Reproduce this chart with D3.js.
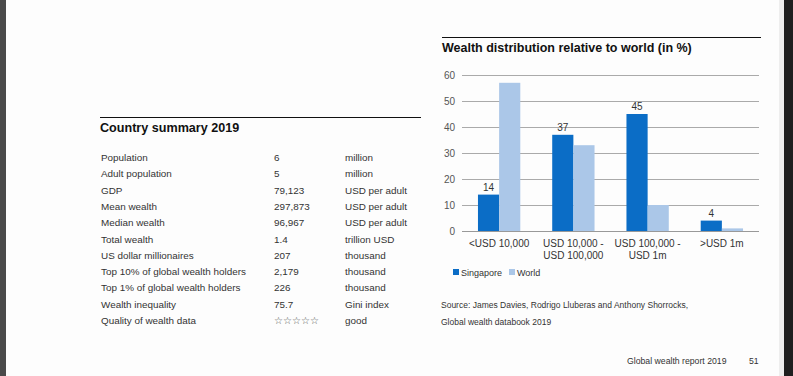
<!DOCTYPE html>
<html>
<head>
<meta charset="utf-8">
<script src="https://cdn.jsdelivr.net/npm/d3@7"></script>
<style>
  html, body { margin: 0; padding: 0; background: #fdfdfd; }
  svg { display: block; }
  text { font-family: "Liberation Sans", Arial, Helvetica, sans-serif; }
</style>
</head>
<body>
<script>
// ---- Data ----
const categories = [["<USD 10,000"], ["USD 10,000 -", "USD 100,000"], ["USD 100,000 -", "USD 1m"], [">USD 1m"]];
const singapore = [14, 37, 45, 4];
const world = [57, 33, 10, 1];
const yTicks = [0, 10, 20, 30, 40, 50, 60];
const seriesNames = ["Singapore", "World"];

const rowLabels = ["Population", "Adult population", "GDP", "Mean wealth", "Median wealth", "Total wealth",
  "US dollar millionaires", "Top 10% of global wealth holders", "Top 1% of global wealth holders",
  "Wealth inequality", "Quality of wealth data"];
const rowValues = ["6", "5", "79,123", "297,873", "96,967", "1.4", "207", "2,179", "226", "75.7", "☆☆☆☆☆"];
const rowUnits = ["million", "million", "USD per adult", "USD per adult", "USD per adult", "trillion USD",
  "thousand", "thousand", "thousand", "Gini index", "good"];

// ---- Layout ----
const W = 793, H = 376;
const svg = d3.select("body").append("svg").attr("width", W).attr("height", H);

svg.append("rect").attr("x", 0).attr("y", 0).attr("width", W).attr("height", H).attr("fill", "#fdfdfd");
svg.append("rect").attr("x", 779).attr("y", 0).attr("width", 6).attr("height", H).attr("fill", "#eeeeee");
svg.append("rect").attr("x", 0).attr("y", 0).attr("width", 6).attr("height", H).attr("fill", "#4a4a4a");
svg.append("rect").attr("x", 784).attr("y", 0).attr("width", 9).attr("height", H).attr("fill", "#1f1f1f");

const textCol = "#333";

// ---- Left: Country summary ----
svg.append("line").attr("x1", 100).attr("x2", 421).attr("y1", 117.5).attr("y2", 117.5)
  .attr("stroke", "#111").attr("stroke-width", 1);
svg.append("text").attr("x", 100).attr("y", 132).attr("font-size", 12.6).attr("font-weight", "bold")
  .attr("fill", "#111").text("Country summary 2019");

const rowY = d3.scalePoint().domain(d3.range(rowLabels.length)).range([157.5, 320.5]);
const rows = svg.append("g").attr("font-size", 9.9).attr("fill", textCol);
rowLabels.forEach((l, i) => {
  const y = rowY(i) + 3.5;
  rows.append("text").attr("x", 101).attr("y", y).text(l);
  const v = rows.append("text").attr("x", 274).attr("y", y).text(rowValues[i]);
  if (i === rowLabels.length - 1) v.attr("font-size", 9.5).attr("font-family", "DejaVu Sans").attr("fill", "#555");
  rows.append("text").attr("x", 345).attr("y", y).text(rowUnits[i]);
});

// ---- Right: chart ----
svg.append("line").attr("x1", 442).attr("x2", 761).attr("y1", 37.5).attr("y2", 37.5)
  .attr("stroke", "#111").attr("stroke-width", 1);
svg.append("text").attr("x", 442).attr("y", 52).attr("font-size", 12.5).attr("font-weight", "bold")
  .attr("fill", "#111").text("Wealth distribution relative to world (in %)");

const x0 = d3.scaleBand().domain(d3.range(categories.length)).range([462, 759])
  .paddingInner(0.43).paddingOuter(0.215);
const x1 = d3.scaleBand().domain(seriesNames).range([0, x0.bandwidth()]);
const y = d3.scaleLinear().domain([0, 60]).range([231, 75]);
const colors = { Singapore: "#0b6dc6", World: "#abc7e8" };

const yAxis = d3.axisLeft(y).tickValues(yTicks).tickSize(-(759 - 462)).tickPadding(7);
const gy = svg.append("g").attr("transform", "translate(462,0)").call(yAxis);
gy.select(".domain").remove();
gy.selectAll(".tick line").attr("stroke", "#aaaaaa").attr("stroke-width", 1);
gy.selectAll(".tick text").attr("font-size", 10).attr("fill", "#555")
  .attr("font-family", "'Liberation Sans', Arial, sans-serif");

const data = categories.map((c, i) => ({ i, vals: [
  { k: "Singapore", v: singapore[i] }, { k: "World", v: world[i] }] }));

const groups = svg.append("g").selectAll("g").data(data).join("g")
  .attr("transform", d => `translate(${x0(d.i)},0)`);
groups.selectAll("rect").data(d => d.vals).join("rect")
  .attr("x", d => x1(d.k)).attr("width", x1.bandwidth())
  .attr("y", d => y(d.v)).attr("height", d => y(0) - y(d.v))
  .attr("fill", d => colors[d.k]);
groups.append("text")
  .attr("x", x1("Singapore") + x1.bandwidth() / 2)
  .attr("y", d => y(singapore[d.i]) - 4)
  .attr("text-anchor", "middle").attr("font-size", 10).attr("fill", textCol)
  .text(d => singapore[d.i]);

// baseline
svg.append("line").attr("x1", 462).attr("x2", 759).attr("y1", y(0) + 0.5).attr("y2", y(0) + 0.5)
  .attr("stroke", "#999");

// x labels
const xl = svg.append("g").attr("font-size", 10).attr("fill", textCol).attr("text-anchor", "middle");
categories.forEach((lines, i) => {
  lines.forEach((t, j) => {
    xl.append("text").attr("x", x0(i) + x0.bandwidth() / 2).attr("y", 247 + j * 11.5).text(t);
  });
});

// legend
const legend = svg.append("g").attr("font-size", 9).attr("fill", textCol);
const legX = [453, 509];
seriesNames.forEach((s, i) => {
  legend.append("rect").attr("x", legX[i]).attr("y", 269).attr("width", 6).attr("height", 6).attr("fill", colors[s]);
  legend.append("text").attr("x", legX[i] + 8).attr("y", 275.5).text(s);
});

// source
const src = svg.append("g").attr("font-size", 8.5).attr("fill", textCol);
src.append("text").attr("x", 441).attr("y", 308).text("Source: James Davies, Rodrigo Lluberas and Anthony Shorrocks,");
src.append("text").attr("x", 441).attr("y", 325).text("Global wealth databook 2019");

// footer
svg.append("text").attr("x", 627).attr("y", 364).attr("font-size", 8.7).attr("fill", textCol).text("Global wealth report 2019");
svg.append("text").attr("x", 749).attr("y", 364).attr("font-size", 8.7).attr("fill", textCol).text("51");
</script>
</body>
</html>
